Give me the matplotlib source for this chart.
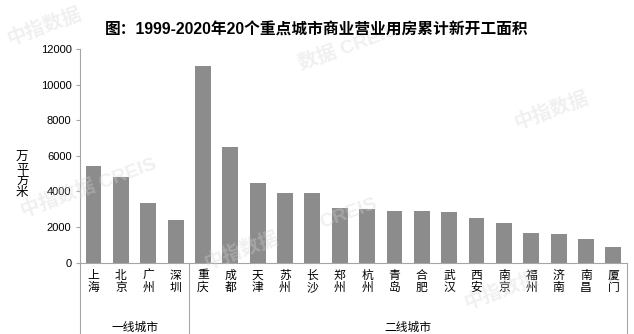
import numpy as np
import matplotlib
matplotlib.use('Agg')
import matplotlib.pyplot as plt
import matplotlib.transforms as mtransforms

plt.rcParams['font.family'] = ['Liberation Sans', 'Noto Sans CJK SC', 'DejaVu Sans']

# ===================== DATI =====================
CITIES = ['上海', '北京', '广州', '深圳',
          '重庆', '成都', '天津', '苏州', '长沙', '郑州', '杭州', '青岛',
          '合肥', '武汉', '西安', '南京', '福州', '济南', '南昌', '厦门']
AREA = [5430, 4790, 3340, 2420,
        11030, 6500, 4480, 3930, 3900, 3090, 3000, 2920,
        2890, 2830, 2490, 2250, 1690, 1610, 1310, 900]
GROUPS = ['一线城市', '二线城市']
GROUP_SIZES = [4, 16]
TITLE = '图：1999-2020年20个重点城市商业营业用房累计新开工面积'
YLABEL = '万平方米'
# ===============================================

BAR_COLOR = '#8c8c8c'
LINE_COLOR = '#a6a6a6'

fig = plt.figure(figsize=(6.34, 3.34), dpi=100)
ax = fig.add_axes([0.126, 0.2135, 0.863, 0.64])

x = np.arange(len(CITIES))
ax.bar(x, AREA, width=0.58, color=BAR_COLOR, zorder=2)

ax.set_xlim(-0.5, len(CITIES) - 0.5)
ax.set_ylim(0, 12000)
ax.set_yticks(np.arange(0, 12001, 2000))
ax.tick_params(axis='y', labelsize=8, length=3, width=0.8, color=LINE_COLOR, pad=3)
ax.tick_params(axis='x', length=0)
ax.set_xticks(x)
ax.set_xticklabels(['\n'.join(c) for c in CITIES], fontsize=8.5,
                   linespacing=1.05)
ax.tick_params(axis='x', pad=5)

for s in ('top', 'right'):
    ax.spines[s].set_visible(False)
for s in ('left', 'bottom'):
    ax.spines[s].set_color(LINE_COLOR)
    ax.spines[s].set_linewidth(0.8)

# linee verticali che separano i gruppi sotto l'asse
trans = mtransforms.blended_transform_factory(ax.transData, ax.transAxes)
edges = np.concatenate([[0], np.cumsum(GROUP_SIZES)]) - 0.5
for e in edges:
    ax.plot([e, e], [0, -0.34], transform=trans, color=LINE_COLOR,
            lw=0.8, clip_on=False)
for g, lo, hi in zip(GROUPS, edges[:-1], edges[1:]):
    ax.text((lo + hi) / 2, -0.305, g, transform=trans, ha='center',
            va='center', fontsize=8.5)

fig.text(0.035, 0.475, '\n'.join(YLABEL), ha='center', va='center',
         fontsize=9, linespacing=0.95)
fig.text(0.5, 0.91, TITLE, ha='center', va='center', fontsize=11.3,
         fontweight='bold')

# filigrana
wm = dict(color='#d4d4d4', alpha=0.35, rotation=20, fontsize=14,
          fontweight='bold', ha='center', va='center', zorder=0)
fig.text(0.07, 0.92, '中指数据', **wm)
fig.text(0.55, 0.86, '数据 CREIS', **wm)
fig.text(0.87, 0.67, '中指数据', **wm)
fig.text(0.14, 0.44, '中指数据 CREIS', **wm)
fig.text(0.55, 0.36, 'CREIS', **wm)
fig.text(0.38, 0.25, '中指数据', **wm)
fig.text(0.79, 0.13, '中指数据', **wm)

fig.savefig('out.png', dpi=100)
